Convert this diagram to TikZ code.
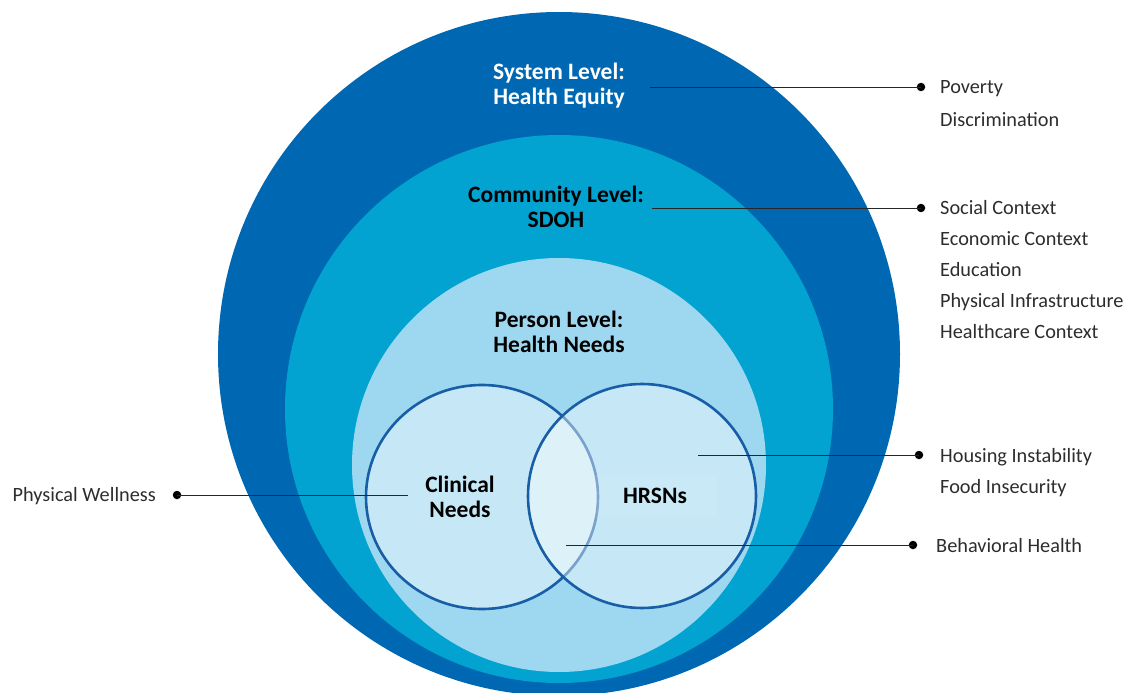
\documentclass[tikz,border=0pt]{standalone}
\usepackage{fontspec}
\setmainfont{Carlito}
\usetikzlibrary{positioning}
\definecolor{systemblue}{RGB}{0,104,178}
\definecolor{communityblue}{RGB}{2,163,208}
\definecolor{personblue}{RGB}{158,216,240}
\definecolor{ringblue}{RGB}{24,94,166}
\definecolor{itemgray}{RGB}{45,45,45}

\begin{document}
\begin{tikzpicture}[x=1pt,y=-1pt,
    level/.style={font={\bfseries\fontsize{23.5}{25}\selectfont},
        align=center,inner sep=0pt},
    item/.style={font={\fontsize{20.3}{24}\selectfont},text=itemgray,
        anchor=west,inner sep=0pt,text height=14pt,text depth=4pt},
    leader/.style={line width=0.8pt,black!85},
    dot/.style={circle,fill=black,inner sep=0pt,minimum size=8.5pt},
    need/.style={draw=ringblue,line width=2.6pt,fill=white,fill opacity=0.42},
    ]
    \useasboundingbox (0,0) rectangle (1125,693);
    % Levels
    \fill[systemblue] (559,354) ellipse [x radius=341, y radius=342];
    \fill[communityblue] (559,409) ellipse [x radius=274, y radius=274];
    \fill[personblue] (559,465) ellipse [x radius=207, y radius=207];
    % Needs
    \draw[need] (482,497) ellipse [x radius=116, y radius=112];
    \draw[need] (642,496) ellipse [x radius=114, y radius=112];
    % Level names
    \node[level,text=white] (system) at (559,86) {System Level:\\Health Equity};
    \node[level] (community) at (556,207) {Community Level:\\SDOH};
    \node[level] (person) at (559,332) {Person Level:\\Health Needs};
    \node[level] (clinical) at (460,497) {Clinical\\Needs};
    \node[level,fill=white,fill opacity=0.07,text opacity=1,
          minimum width=124pt,minimum height=42pt] (hrsn) at (655,496) {HRSNs};

    % Leaders and their dots
    \coordinate (sysend) at (650,87);
    \coordinate (comend) at (652,208);
    \coordinate (hrsnend) at (698,455);
    \coordinate (bothend) at (566,545);
    \coordinate (clinend) at (408,495);
    \node[dot] (povdot) at (921,87) {};
    \node[dot] (socdot) at (921,208) {};
    \node[dot] (housdot) at (919,455) {};
    \node[dot] (behdot) at (913,545) {};
    \node[dot] (welldot) at (177,495) {};
    \draw[leader] (sysend) -- (povdot.center);
    \draw[leader] (comend) -- (socdot.center);
    \draw[leader] (hrsnend) -- (housdot.center);
    \draw[leader] (bothend) -- (behdot.center);
    \draw[leader] (welldot.center) -- (clinend);

    % Items
    \node[item] (poverty) at (940,89) {Poverty};
    \node[item] (discrim) at (940,121) {Discrimination};
    \node[item] (social) at (940,209) {Social Context};
    \node[item] (economic) at (940,240) {Economic\ Context};
    \node[item] (education) at (940,271) {Education};
    \node[item] (infra) at (940,302) {Physical Infrastructure};
    \node[item] (care) at (940,333) {Healthcare Context};
    \node[item] (housing) at (940,457) {Housing Instability};
    \node[item] (food) at (940,488) {Food Insecurity};
    \node[item] (behav) at (936,547) {Behavioral Health};
    \node[item,anchor=east] (wellness) at (156,496) {Physical Wellness};
\end{tikzpicture}
\end{document}
